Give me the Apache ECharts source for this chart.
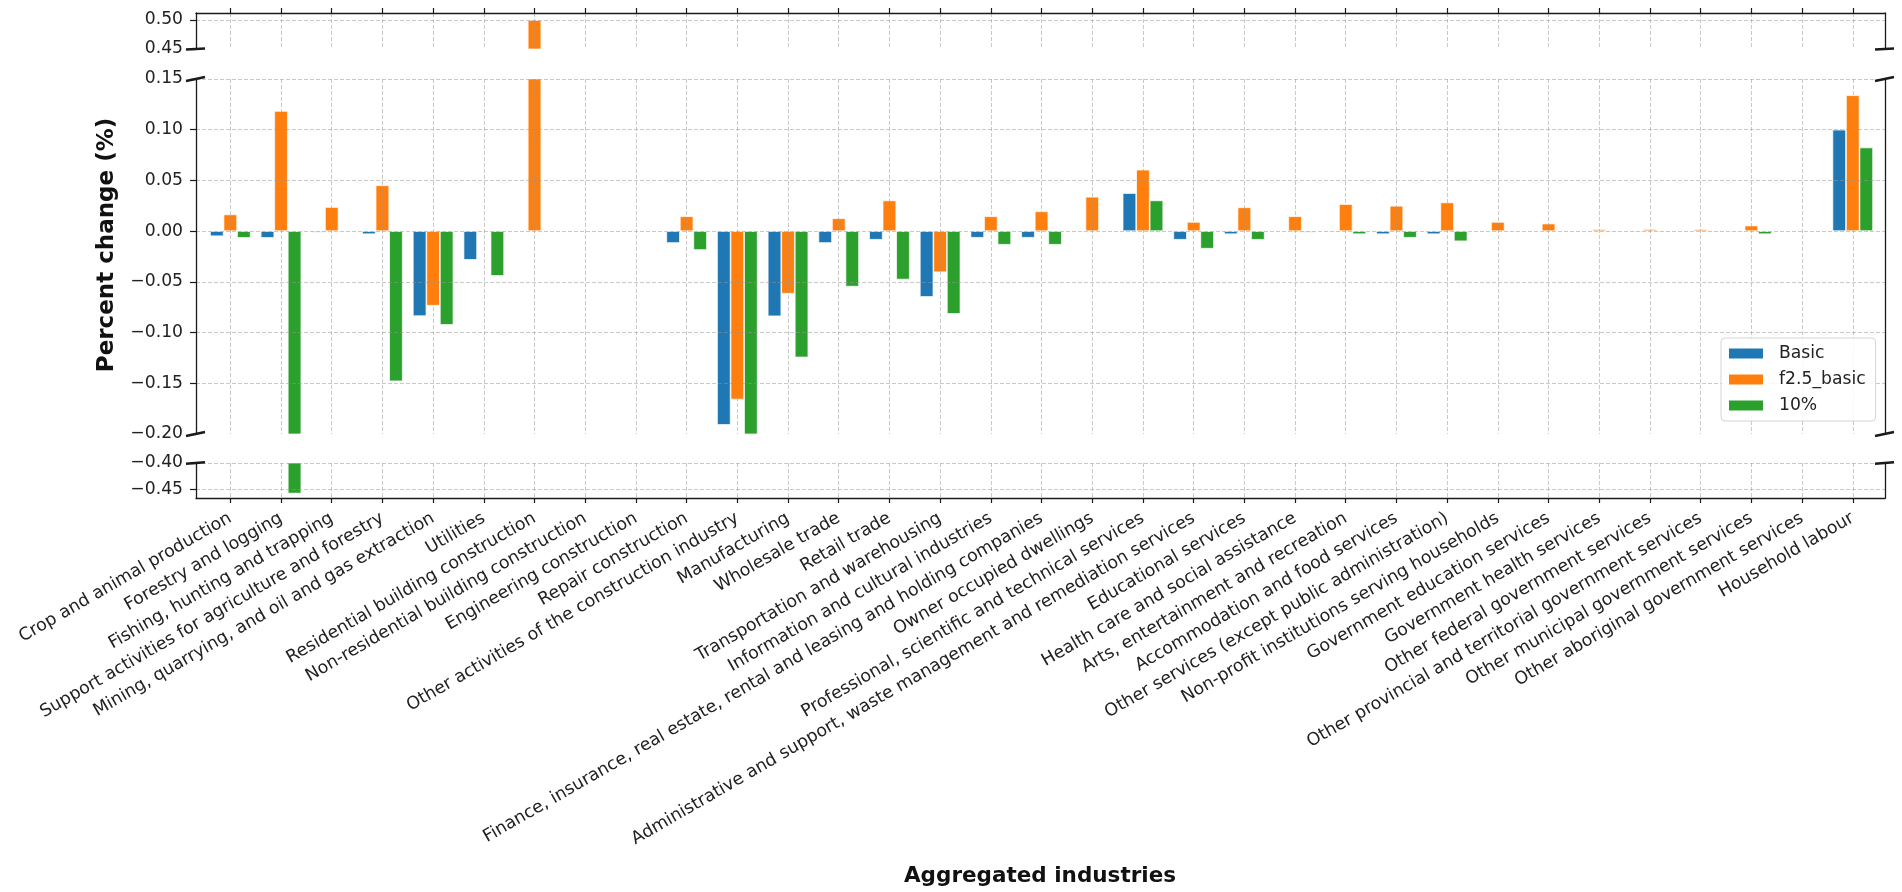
<!DOCTYPE html>
<html><head><meta charset="utf-8">
<script src="https://cdn.jsdelivr.net/npm/echarts@6/dist/echarts.min.js"></script>
<style>html,body{margin:0;padding:0;background:#fff}#c{width:1902px;height:892px}</style>
</head><body><div id="c"></div>
<script>
const categories = [
  'Crop and animal production',
  'Forestry and logging',
  'Fishing, hunting and trapping',
  'Support activities for agriculture and forestry',
  'Mining, quarrying, and oil and gas extraction',
  'Utilities',
  'Residential building construction',
  'Non-residential building construction',
  'Engineering construction',
  'Repair construction',
  'Other activities of the construction industry',
  'Manufacturing',
  'Wholesale trade',
  'Retail trade',
  'Transportation and warehousing',
  'Information and cultural industries',
  'Finance, insurance, real estate, rental and leasing and holding companies',
  'Owner occupied dwellings',
  'Professional, scientific and technical services',
  'Administrative and support, waste management and remediation services',
  'Educational services',
  'Health care and social assistance',
  'Arts, entertainment and recreation',
  'Accommodation and food services',
  'Other services (except public administration)',
  'Non-profit institutions serving households',
  'Government education services',
  'Government health services',
  'Other federal government services',
  'Other provincial and territorial government services',
  'Other municipal government services',
  'Other aboriginal government services',
  'Household labour'
];
const seriesNames = ['Basic', 'f2.5_basic', '10%'];
const basic = [-0.005, -0.0066, -0.0013, -0.003, -0.0838, -0.0283, 0, 0, 0, -0.0117, -0.191, -0.0839,
  -0.0117, -0.0085, -0.0649, -0.0065, -0.0065, 0, 0.0375, -0.0085, -0.003, 0, -0.001, -0.003, -0.003,
  0, 0, 0, -0.001, 0, -0.001, 0, 0.100];
const f25basic = [0.0165, 0.1185, 0.0238, 0.0452, -0.0735, -0.001, 0.5, 0, 0, 0.0147, -0.166, -0.0617,
  0.0127, 0.0303, -0.0405, 0.0147, 0.0195, 0.0339, 0.0606, 0.0091, 0.0235, 0.0147, 0.0267, 0.025, 0.0283,
  0.0091, 0.0075, 0.002, 0.002, 0.002, 0.0055, 0, 0.134];
const tenPct = [-0.0066, -0.458, -0.001, -0.148, -0.0924, -0.0441, 0, 0, 0, -0.0186, -0.23, -0.1245,
  -0.0547, -0.0477, -0.0816, -0.0134, -0.0134, 0, 0.0303, -0.0173, -0.0085, -0.0013, -0.003, -0.0065, -0.010,
  -0.001, 0, -0.001, -0.001, -0.001, -0.003, 0, 0.0825];
const topTicks = [0.45, 0.50];
const midTicks = [-0.20, -0.15, -0.10, -0.05, 0.00, 0.05, 0.10, 0.15];
const botTicks = [-0.45, -0.40];

const colors = ['#1f77b4', '#ff7f0e', '#2ca02c'];
const valueSets = [basic, f25basic, tenPct];
const FONT = 'DejaVu Sans';
const L = 196, R = 17;
const panels = [
  {top: 13, height: 36, min: 0.45, max: 0.5121, ticks: topTicks},
  {top: 79, height: 355, min: -0.20, max: 0.15, ticks: midTicks},
  {top: 463, height: 35, min: -0.4665, max: -0.40, ticks: botTicks}
];
const xMin = -0.677, xMax = 32.636;
const idx = categories.map((_, i) => i);
const fmtY = v => (v < 0 ? '\u2212' : '') + Math.abs(v).toFixed(2);
const spine = {color: '#1a1a1a', width: 1.3};
const gridLine = {show: true, lineStyle: {color: 'rgba(150,150,150,0.5)', width: 1, type: [4, 2]}};

const grid = panels.map(p => ({left: L, right: R, top: p.top, height: p.height, outerBoundsMode: 'none', containLabel: false}));
const xAxis = panels.map((p, k) => ({
  type: 'value', gridIndex: k, min: xMin, max: xMax, z: 3,
  position: k === 0 ? 'top' : 'bottom',
  axisLine: {show: k !== 1, onZero: false, lineStyle: spine},
  axisTick: {show: k !== 1, length: 5, customValues: idx, lineStyle: {color: '#1a1a1a', width: 1.2}},
  axisLabel: k === 2 ? {
    show: true, customValues: idx, rotate: 30, margin: 19,
    formatter: v => categories[Math.round(v)] || '',
    fontSize: 17.4, fontFamily: FONT, color: '#222'
  } : {show: false},
  splitLine: gridLine
}));
const yAxis = [];
panels.forEach((p, k) => {
  yAxis.push({
    type: 'value', gridIndex: k, min: p.min, max: p.max, position: 'left', z: 3,
    axisLine: {show: true, onZero: false, lineStyle: spine},
    axisTick: {show: true, length: 6, customValues: p.ticks, lineStyle: {color: '#1a1a1a', width: 1.2}},
    axisLabel: {show: true, customValues: p.ticks, formatter: fmtY, fontSize: 17.2, margin: 13, fontFamily: FONT, color: '#222'},
    splitLine: Object.assign({}, gridLine, {showMinLine: k === 2, showMaxLine: true})
  });
  yAxis.push({
    type: 'value', gridIndex: k, min: p.min, max: p.max, position: 'right', z: 3,
    axisLine: {show: true, onZero: false, lineStyle: spine},
    axisTick: {show: false}, axisLabel: {show: false}, splitLine: {show: false}
  });
});
const series = [];
panels.forEach((p, k) => {
  valueSets.forEach((vals, s) => {
    series.push({
      type: 'bar', name: seriesNames[s], xAxisIndex: k, yAxisIndex: 2 * k,
      data: vals.map((v, i) => [i, v]),
      barWidth: '26.67%', barGap: '0%', clip: true,
      itemStyle: {color: colors[s], borderColor: '#fff', borderWidth: 0.7},
      emphasis: {disabled: true}
    });
  });
});

// break marks (decoration)
const breaks = [];
const xs = [L, 1902 - R];
const marks = [
  {y: 49, dy: 1},
  {y: 79, dy: 4},
  {y: 434, dy: 4},
  {y: 463, dy: 1.5}
];
xs.forEach(x => marks.forEach(m => breaks.push({
  type: 'line', z: 10,
  shape: {x1: x - 10, y1: m.y + m.dy / 2, x2: x + 9, y2: m.y - m.dy / 2},
  style: {stroke: '#1a1a1a', lineWidth: 2.5}
})));

const chart = echarts.init(document.getElementById('c'), null, {renderer: 'canvas'});
chart.setOption({
  animation: false,
  backgroundColor: '#fff',
  grid, xAxis, yAxis, series,
  legend: {
    data: seriesNames, orient: 'vertical', left: 1721, top: 338,
    itemWidth: 36, itemHeight: 12, itemGap: 9, icon: 'rect',
    padding: [7, 10, 7, 6],
    backgroundColor: 'rgba(255,255,255,0.85)', borderColor: '#d5d5d5', borderWidth: 1, borderRadius: 4,
    textStyle: {fontSize: 17.2, fontFamily: FONT, color: '#222', padding: [0, 0, 0, 10]},
    selectedMode: false
  },
  graphic: breaks.concat([
    {type: 'text', x: 107, y: 245, rotation: Math.PI / 2, z: 10,
     style: {text: 'Percent change (%)', font: 'bold 23px "DejaVu Sans"', fill: '#111', align: 'center', verticalAlign: 'middle'}},
    {type: 'text', x: 1040, y: 876, z: 10,
     style: {text: 'Aggregated industries', font: 'bold 21.5px "DejaVu Sans"', fill: '#111', align: 'center', verticalAlign: 'middle'}}
  ])
});
</script>
</body></html>
